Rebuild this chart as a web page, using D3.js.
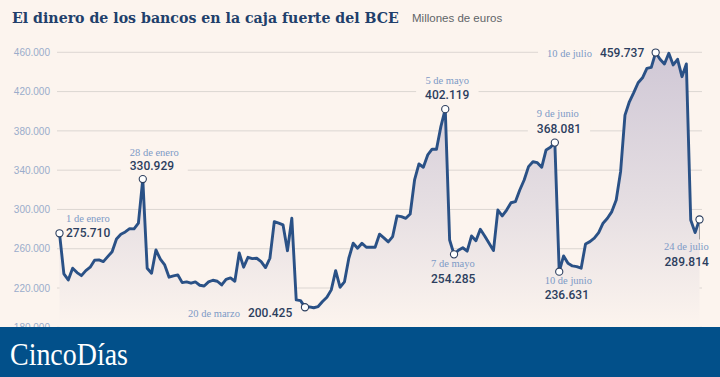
<!DOCTYPE html>
<html>
<head>
<meta charset="utf-8">
<script src="https://cdn.jsdelivr.net/npm/d3@7"></script>
<style>
  html, body { margin: 0; padding: 0; background: #fcf4ee; }
  svg { display: block; }
</style>
</head>
<body>
<div id="chart"></div>
<script>
// saldo diario en la facilidad de depósito del BCE, millones de euros
// un valor por día hábil, del 1 de enero al 24 de julio
let depositos = [
  275710, 234400, 228200, 240200, 235700, 232600, 237700, 241200, 248300, 248600,
  246900, 252000, 257000, 270000, 274800, 277100, 280500, 280200, 286000, 330929,
  240200, 235100, 258800, 249300, 243500, 231000, 232300, 233300, 225500, 226200,
  224900, 226200, 222800, 222100, 226200, 227900, 226900, 223100, 228900, 230300,
  226900, 255700, 241200, 251300, 249900, 250300, 246900, 240800, 250300, 287600,
  286000, 284200, 258000, 291000, 207900, 207200, 200425, 200800, 199900, 201100,
  206200, 210600, 218100, 237700, 220800, 226200, 250300, 265600, 260500, 265600,
  261500, 261500, 261500, 274800, 271000, 267000, 272400, 293400, 292700, 291000,
  295400, 330000, 346300, 343000, 355500, 361300, 361300, 384300, 402119, 268900,
  254285, 258500, 261000, 257500, 273000, 268200, 279800, 273000, 265600, 258100,
  299400, 293400, 299400, 306800, 307900, 319800, 330000, 343600, 348600, 347600,
  342900, 360600, 363300, 368081, 236631, 252700, 245200, 242500, 241800, 240200,
  264900, 267200, 270700, 276400, 286000, 291000, 297800, 309700, 338500, 396000,
  409600, 419000, 429000, 434000, 443700, 444700, 459737, 452900, 448100, 459000,
  447100, 452900, 435200, 448100, 289300, 276400, 289814
];

let yTicks = [180000, 220000, 260000, 300000, 340000, 380000, 420000, 460000];

// días destacados (posición en la serie) y su fecha
let hitoIdx = [0, 19, 56, 88, 90, 113, 114, 136, 146];
let hitoFecha = ['1 de enero', '28 de enero', '20 de marzo', '5 de mayo', '7 de mayo',
                 '9 de junio', '10 de junio', '10 de julio', '24 de julio'];

let titulo = 'El dinero de los bancos en la caja fuerte del BCE';
let subtitulo = 'Millones de euros';
let marca = 'CincoDías';

let width = 720, height = 377;
let bg = '#fcf4ee', navy = '#2a5186', dateCol = '#7d9ac6', numCol = '#2c3e5e';

let es = d3.formatLocale({decimal: ',', thousands: '.', grouping: [3], currency: ['', ' €']});
let fmt = es.format(',d');

let svg = d3.select('#chart').append('svg')
  .attr('width', width)
  .attr('height', height)
  .style('background', bg);

let x = d3.scaleLinear()
  .domain([0, depositos.length - 1])
  .range([59.5, 699.5]);

let y = d3.scaleLinear()
  .domain([180000, 460000])
  .range([327.3, 52.3]);

// gridlines
svg.append('g').selectAll('line')
  .data(yTicks)
  .join('line')
  .attr('x1', 57).attr('x2', 702)
  .attr('y1', d => y(d)).attr('y2', d => y(d))
  .attr('stroke', '#dcd6d2')
  .attr('stroke-width', 1);

// y axis labels only
let yAxis = d3.axisLeft(y)
  .tickValues(yTicks)
  .tickSize(0)
  .tickPadding(0)
  .tickFormat(fmt);

svg.append('g')
  .attr('transform', 'translate(50,0)')
  .call(yAxis)
  .call(g => g.select('.domain').remove())
  .call(g => g.selectAll('text')
    .attr('fill', '#9aaccb')
    .style('font-family', '"Liberation Sans", Arial, sans-serif')
    .style('font-size', '10px'));

// label layout relative to each marker
let layout = {
  0:   {anchor: 'start', dx: 6.5,  dDate: -11, dNum: 3.5},
  19:  {anchor: 'start', dx: -13,  dDate: -23.5, dNum: -9},
  56:  {inline: true, dx: -65, dDate: 9.3},
  88:  {anchor: 'middle', dx: 2,  dDate: -25, dNum: -10},
  90:  {anchor: 'start', dx: -23, dDate: 13, dNum: 29},
  113: {anchor: 'start', dx: -18, dDate: -25.5, dNum: -9.5},
  114: {anchor: 'start', dx: -14.5, dDate: 12.7, dNum: 27.4},
  136: {inline: true, dx: -63.7, dDate: 4},
  146: {anchor: 'end', dx: 9.3, dDate: 31, dNum: 47, leader: [4, 20]}
};

let labelBg = svg.append('g');

// area under the line with vertical fade
let defs = svg.append('defs');
let grad = defs.append('linearGradient')
  .attr('id', 'areaGrad')
  .attr('gradientUnits', 'userSpaceOnUse')
  .attr('x1', 0).attr('x2', 0)
  .attr('y1', y(460000)).attr('y2', y(180000));
grad.append('stop').attr('offset', '0%').attr('stop-color', '#d0c8d6');
grad.append('stop').attr('offset', '55%').attr('stop-color', '#e5dee2');
grad.append('stop').attr('offset', '100%').attr('stop-color', bg);

let area = d3.area()
  .x((d, i) => x(i))
  .y0(y(180000))
  .y1(d => y(d));

svg.append('path')
  .datum(depositos)
  .attr('fill', 'url(#areaGrad)')
  .attr('d', area);

let line = d3.line()
  .x((d, i) => x(i))
  .y(d => y(d));

svg.append('path')
  .datum(depositos)
  .attr('fill', 'none')
  .attr('stroke', navy)
  .attr('stroke-width', 2.9)
  .attr('stroke-linejoin', 'round')
  .attr('d', line);

// annotations
let labels = svg.append('g');
hitoIdx.forEach((idx, k) => {
  let mx = x(idx), my = y(depositos[idx]);
  let L = layout[idx];
  let g = labels.append('g');
  if (L.leader) {
    g.append('line')
      .attr('x1', mx).attr('x2', mx)
      .attr('y1', my + L.leader[0]).attr('y2', my + L.leader[1])
      .attr('stroke', '#8d8d8d').attr('stroke-width', 0.8);
  }
  let dateT, numT;
  if (L.inline) {
    dateT = g.append('text')
      .attr('x', mx + L.dx).attr('y', my + L.dDate)
      .attr('text-anchor', 'end')
      .text(hitoFecha[k]);
    numT = g.append('text')
      .attr('x', mx + L.dx + 8).attr('y', my + L.dDate)
      .attr('text-anchor', 'start')
      .text(fmt(depositos[idx]));
  } else {
    dateT = g.append('text')
      .attr('x', mx + L.dx).attr('y', my + L.dDate)
      .attr('text-anchor', L.anchor)
      .text(hitoFecha[k]);
    numT = g.append('text')
      .attr('x', mx + L.dx).attr('y', my + L.dNum)
      .attr('text-anchor', L.anchor)
      .text(fmt(depositos[idx]));
  }
  dateT.attr('fill', dateCol)
    .style('font-family', '"Liberation Serif", "Times New Roman", serif')
    .style('font-size', '10.5px');
  numT.attr('fill', numCol)
    .style('font-family', 'Roboto, "Liberation Sans", sans-serif')
    .style('font-weight', 500)
    .style('font-size', '12px');

  let b1 = dateT.node().getBBox(), b2 = numT.node().getBBox();
  let x0 = Math.min(b1.x, b2.x) - 9, x1 = Math.max(b1.x + b1.width, b2.x + b2.width) + 9;
  let y0 = Math.min(b1.y, b2.y) - 2, y1 = Math.max(b1.y + b1.height, b2.y + b2.height) + 2;
  labelBg.append('rect')
    .attr('x', x0).attr('y', y0)
    .attr('width', x1 - x0).attr('height', y1 - y0)
    .attr('fill', bg);

  g.append('circle')
    .attr('cx', mx).attr('cy', my)
    .attr('r', 3.6)
    .attr('fill', '#fff')
    .attr('stroke', numCol)
    .attr('stroke-width', 1.1);
});

// squeeze a text horizontally so it spans exactly w pixels
function fitWidth(sel, tx, ty, w) {
  let natural = sel.node().getComputedTextLength();
  sel.attr('transform', 'translate(' + tx + ',' + ty + ') scale(' + (w / natural) + ',1)');
}

// title
let tit = svg.append('text')
  .attr('fill', '#213f6b')
  .style('font-family', '"DejaVu Serif", serif')
  .style('font-weight', 700)
  .style('font-size', '15px')
  .text(titulo);
fitWidth(tit, 12, 22.5, 387);

svg.append('text')
  .attr('x', 412).attr('y', 22)
  .attr('fill', '#5f6468')
  .style('font-family', '"Liberation Sans", Arial, sans-serif')
  .style('font-size', '11.5px')
  .text(subtitulo);

// footer banner
svg.append('rect')
  .attr('x', 0).attr('y', 327)
  .attr('width', width).attr('height', height - 327)
  .attr('fill', '#02508a');

let brand = svg.append('text')
  .attr('fill', '#fff')
  .style('font-family', '"Liberation Serif", "Times New Roman", serif')
  .style('font-size', '31px')
  .text(marca);
fitWidth(brand, 10, 365, 118);
</script>
</body>
</html>
